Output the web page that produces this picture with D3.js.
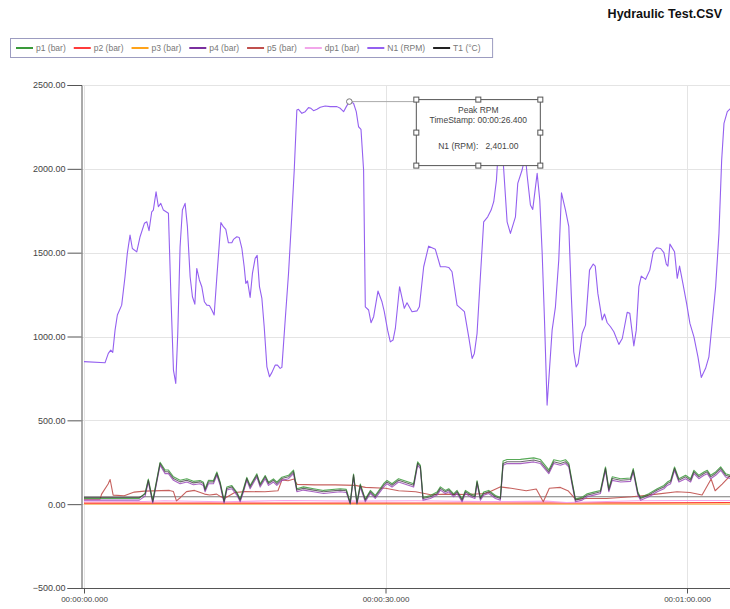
<!DOCTYPE html>
<html>
  <head>
    <meta charset="utf-8">
    <title>Hydraulic Test.CSV</title>
    <script src="https://cdn.jsdelivr.net/npm/d3@7"></script>
    <style>
      body { margin: 0; background: #fff; }
      svg { display: block; font-family: "Liberation Sans", Arial, sans-serif; }
      .grid line { stroke: #e4e4e4; stroke-width: 1; }
      .axis path, .axis line { stroke: #555; }
      .axis text { fill: #444; }
      .series { fill: none; stroke-width: 1.1; stroke-linejoin: round; }
    </style>
  </head>

  <body>
    <svg id="chart" width="730" height="609"></svg>

    <script>
      // data (time in seconds)
      yTicks = [-500, 0, 500, 1000, 1500, 2000, 2500];
      xTicks = [0, 30, 60];

      names = ["p1 (bar)", "p2 (bar)", "p3 (bar)", "p4 (bar)", "p5 (bar)", "dp1 (bar)", "N1 (RPM)", "T1 (\u00b0C)"];
      colors = ["#3a9a3a", "#ff3b3b", "#ffa31a", "#7a2f9e", "#c0504d", "#f2a6ea", "#9460f0", "#222222"];

      n1 = [[0,850],[2.09,843],[2.42,899],[2.66,919],[2.86,905],[3.09,1038],[3.32,1128],[3.75,1187],[4.08,1356],[4.31,1496],[4.58,1605],[4.81,1525],[5.25,1505],[5.58,1595],[6.01,1675],[6.25,1684],[6.47,1631],[6.74,1744],[6.9,1754],[7.17,1863],[7.4,1774],[7.64,1794],[7.9,1754],[8.4,1735],[8.64,1257],[8.9,800],[9.13,720],[9.33,1018],[9.56,1535],[9.79,1754],[10.06,1794],[10.29,1655],[10.56,1356],[10.79,1237],[11.03,1193],[11.22,1406],[11.48,1337],[11.72,1297],[11.98,1207],[12.22,1187],[12.48,1185],[12.72,1158],[12.95,1128],[13.22,1356],[13.62,1679],[13.87,1655],[14.11,1639],[14.37,1559],[14.71,1559],[14.87,1579],[15.21,1595],[15.44,1591],[15.71,1525],[15.94,1416],[16.1,1317],[16.27,1332],[16.53,1233],[16.76,1376],[17.03,1466],[17.23,1484],[17.46,1297],[17.7,1227],[17.93,1058],[18.2,819],[18.46,760],[18.7,786],[19.02,829],[19.25,829],[19.52,810],[19.69,816],[20.02,1098],[20.35,1376],[20.69,1735],[20.92,1993],[21.18,2351],[21.34,2355],[21.68,2331],[22.01,2341],[22.34,2365],[22.58,2361],[22.84,2347],[23.18,2355],[23.51,2367],[24.0,2375],[24.5,2371],[25.17,2371],[25.5,2361],[25.83,2341],[26.1,2371],[26.4,2401],[26.82,2391],[27.09,2341],[27.32,2251],[27.56,2236],[27.82,1993],[27.99,1177],[28.32,1158],[28.56,1082],[28.82,1118],[29.25,1271],[29.65,1207],[29.88,1148],[30.21,1038],[30.48,968],[30.75,979],[30.98,1048],[31.4,1297],[31.87,1168],[32.14,1201],[32.64,1148],[33.14,1153],[33.37,1177],[33.8,1416],[34.29,1539],[34.96,1520],[35.46,1416],[35.96,1416],[36.29,1412],[36.62,1386],[37.12,1187],[37.85,1148],[38.28,998],[38.62,869],[38.84,899],[39.11,1018],[39.44,1356],[39.77,1684],[40.17,1714],[40.51,1754],[40.77,1804],[41.04,1933],[41.16,2053],[41.33,2150],[41.7,2053],[42.1,1684],[42.43,1615],[42.93,1714],[43.16,1913],[43.59,1993],[43.92,2080],[44.09,1963],[44.42,1784],[44.65,1758],[45.09,1973],[45.35,1814],[45.59,1496],[45.82,1098],[46.08,591],[46.58,1038],[46.91,1177],[47.24,1456],[47.51,1857],[47.91,1754],[48.24,1655],[48.48,1257],[48.73,909],[48.97,819],[49.17,839],[49.57,1018],[49.9,1068],[50.3,1396],[50.67,1432],[50.87,1420],[51.13,1257],[51.56,1098],[51.79,1134],[52.06,1082],[52.39,1058],[52.72,1028],[53.22,953],[53.56,988],[54.05,1144],[54.31,1138],[54.71,944],[54.95,1038],[55.21,1297],[55.45,1360],[55.88,1341],[56.3,1396],[56.64,1505],[56.97,1529],[57.37,1525],[57.7,1500],[57.94,1432],[58.1,1420],[58.3,1551],[58.76,1505],[59.03,1347],[59.26,1420],[59.59,1317],[59.96,1197],[60.29,1078],[60.69,998],[61.09,879],[61.42,756],[61.85,810],[62.18,879],[62.85,1297],[63.18,1615],[63.45,2053],[63.68,2271],[64.01,2341],[64.34,2361],[64.6,2370]];

      t1 = [[0,40],[5.5,40],[6.08,60],[6.4,143],[6.84,14],[7.57,243],[8.07,193],[8.4,193],[8.9,153],[9.56,133],[10.23,143],[10.89,127],[11.55,133],[11.88,123],[12.05,84],[12.38,133],[12.88,133],[13.22,183],[13.55,123],[13.94,14],[14.21,94],[14.71,103],[15.21,64],[15.54,24],[15.87,84],[16.2,153],[16.53,103],[17.2,173],[17.53,113],[18.03,163],[18.36,123],[18.85,143],[19.19,123],[19.69,153],[20.35,163],[20.85,193],[21.18,84],[21.84,94],[22.84,84],[23.84,74],[25.5,84],[26.1,80],[26.49,4],[26.82,173],[27.16,4],[27.49,113],[27.99,24],[28.49,74],[28.98,44],[29.81,113],[30.15,133],[30.65,113],[31.3,143],[32.8,113],[33.2,243],[33.47,223],[33.73,34],[34.46,44],[35.13,64],[35.46,94],[35.96,74],[36.29,84],[36.78,54],[37.12,74],[37.62,24],[37.95,74],[38.45,54],[38.9,44],[39.11,133],[39.44,34],[39.77,64],[40.27,74],[40.94,44],[41.43,34],[41.7,243],[42.1,253],[43.43,253],[44.75,263],[45.42,253],[46.25,193],[46.74,253],[47.41,243],[47.91,253],[48.24,233],[48.58,123],[48.9,24],[49.57,34],[50.07,54],[50.73,64],[51.39,74],[51.89,213],[52.22,84],[52.56,153],[53.39,143],[54.38,147],[54.65,203],[55.11,64],[55.38,34],[56.2,54],[57.04,84],[57.7,103],[58.04,123],[58.37,133],[58.76,213],[59.19,143],[59.86,163],[60.36,143],[60.69,193],[61.18,163],[61.68,183],[62.02,193],[62.35,163],[62.85,183],[63.35,213],[63.84,173],[64.34,163],[64.6,160]];

      p1 = [[0,34],[5.5,34],[6.08,66],[6.4,150],[6.84,22],[7.57,250],[8.07,204],[8.4,204],[8.9,163],[9.56,143],[10.23,152],[10.89,136],[11.55,141],[11.88,131],[12.05,92],[12.38,142],[12.88,141],[13.22,192],[13.55,131],[13.94,22],[14.21,102],[14.71,111],[15.21,71],[15.54,30],[15.87,92],[16.2,160],[16.53,111],[17.2,181],[17.53,121],[18.03,171],[18.36,131],[18.85,151],[19.19,131],[19.69,161],[20.35,172],[20.85,203],[21.18,92],[21.84,103],[22.84,92],[23.84,82],[25.5,92],[26.1,88],[26.49,10],[26.82,180],[27.16,10],[27.49,120],[27.99,30],[28.49,82],[28.98,52],[29.81,122],[30.15,142],[30.65,122],[31.3,152],[32.8,122],[33.2,252],[33.47,232],[33.73,40],[34.46,52],[35.13,72],[35.46,103],[35.96,82],[36.29,92],[36.78,62],[37.12,82],[37.62,30],[37.95,82],[38.45,62],[38.9,52],[39.11,140],[39.44,40],[39.77,72],[40.27,82],[40.94,52],[41.43,40],[41.7,258],[42.1,266],[43.43,267],[44.75,276],[45.42,266],[46.25,204],[46.74,265],[47.41,256],[47.91,265],[48.24,244],[48.58,131],[48.9,30],[49.57,42],[50.07,62],[50.73,72],[51.39,82],[51.89,222],[52.22,94],[52.56,163],[53.39,152],[54.38,156],[54.65,212],[55.11,72],[55.38,40],[56.2,62],[57.04,92],[57.7,112],[58.04,132],[58.37,142],[58.76,222],[59.19,152],[59.86,172],[60.36,152],[60.69,202],[61.18,172],[61.68,192],[62.02,202],[62.35,172],[62.85,192],[63.35,222],[63.84,182],[64.34,172],[64.6,170]];

      p4 = [[0,24],[5.5,24],[6.08,48],[6.4,132],[6.84,6],[7.57,232],[8.07,182],[8.4,182],[8.9,142],[9.56,122],[10.23,132],[10.89,116],[11.55,122],[11.88,112],[12.05,74],[12.38,122],[12.88,122],[13.22,172],[13.55,112],[13.94,6],[14.21,84],[14.71,92],[15.21,54],[15.54,14],[15.87,74],[16.2,142],[16.53,92],[17.2,162],[17.53,102],[18.03,152],[18.36,112],[18.85,132],[19.19,112],[19.69,142],[20.35,152],[20.85,182],[21.18,74],[21.84,84],[22.84,74],[23.84,64],[25.5,74],[26.1,70],[26.49,0],[26.82,162],[27.16,0],[27.49,102],[27.99,14],[28.49,64],[28.98,34],[29.81,102],[30.15,122],[30.65,102],[31.3,132],[32.8,102],[33.2,232],[33.47,212],[33.73,24],[34.46,34],[35.13,54],[35.46,84],[35.96,64],[36.29,74],[36.78,44],[37.12,64],[37.62,14],[37.95,64],[38.45,44],[38.9,34],[39.11,122],[39.44,24],[39.77,54],[40.27,64],[40.94,34],[41.43,24],[41.7,232],[42.1,242],[43.43,242],[44.75,252],[45.42,242],[46.25,182],[46.74,242],[47.41,232],[47.91,242],[48.24,222],[48.58,112],[48.9,14],[49.57,24],[50.07,44],[50.73,54],[51.39,64],[51.89,202],[52.22,74],[52.56,142],[53.39,132],[54.38,136],[54.65,192],[55.11,54],[55.38,24],[56.2,44],[57.04,74],[57.7,92],[58.04,112],[58.37,122],[58.76,202],[59.19,132],[59.86,152],[60.36,132],[60.69,182],[61.18,152],[61.68,172],[62.02,182],[62.35,152],[62.85,172],[63.35,202],[63.84,162],[64.34,152],[64.6,150]];

      p5 = [[0,30],[1.6,30],[1.75,60],[2.4,120],[2.6,147],[2.9,54],[4.0,50],[5.0,72],[6.0,78],[8.5,82],[8.9,75],[9.2,20],[9.6,40],[10.2,75],[11,82],[12,60],[12.5,55],[13.2,60],[13.6,45],[14,35],[15,70],[16,75],[18,74],[19.3,80],[19.7,145],[20.3,140],[20.9,150],[21.2,118],[23,115],[25,115],[27,112],[28,100],[30,95],[31.3,80],[33,74],[34.5,56],[36,60],[38,58],[40,64],[41.4,103],[42.5,95],[44,80],[45,90],[45.7,15],[46.3,95],[47.4,100],[48.2,78],[48.9,30],[50,34],[52,34],[54.5,44],[55.5,50],[57,60],[59,74],[60.3,70],[61.5,55],[62.4,150],[62.8,80],[63.5,120],[64.3,170],[64.6,172]];

      p2 = [[0,6],[20,6],[40,7],[56,8],[64.6,10]];
      p3 = [[0,1],[64.6,1]];
      dp1 = [[0,18],[6,16],[8,20],[14,14],[20,22],[27,18],[33,20],[40,15],[46,18],[48,10],[55,20],[60,22],[64.6,22]];

      // flat grey trace seen across the whole run (not in the legend)
      baseline = [[0,44],[64.6,44]];

      peakTime = 26.4;
      peakValue = 2401;

      // elements
      svg = d3.select("#chart");
      width = 730;
      height = 609;

      x = d3.scaleLinear()
        .domain([0, 60])
        .range([84, 687]);
      y = d3.scaleLinear()
        .domain([-500, 2500])
        .range([588, 85]);

      function stamp(s) {
        let m = Math.floor(s / 60);
        let sec = s - m * 60;
        return "00:" + d3.format("02d")(m) + ":" + d3.format("06.3f")(sec);
      }

      // title
      svg.append("text")
        .attr("x", 722)
        .attr("y", 18)
        .attr("text-anchor", "end")
        .style("font-size", "12.5px")
        .style("font-weight", "bold")
        .style("fill", "#111")
        .style("font-family", "'Liberation Sans Narrow', 'Liberation Sans', Arial, sans-serif")
        .text("Hydraulic Test.CSV");

      // grid
      grid = svg.append("g").attr("class", "grid");
      grid.selectAll(".h")
          .data(yTicks)
        .enter().append("line")
          .attr("x1", 82).attr("x2", width)
          .attr("y1", function(d) { return Math.round(y(d)) + .5; })
          .attr("y2", function(d) { return Math.round(y(d)) + .5; });
      grid.selectAll(".v")
          .data(xTicks)
        .enter().append("line")
          .attr("x1", function(d) { return Math.round(x(d)) + .5; })
          .attr("x2", function(d) { return Math.round(x(d)) + .5; })
          .attr("y1", 85).attr("y2", 588);

      // series
      line = d3.line()
        .x(function(d) { return x(d[0]); })
        .y(function(d) { return y(d[1]); });

      series = [
        { name: "", color: "#6d6d6d", data: baseline, opacity: .9 },
        { name: names[2], color: colors[2], data: p3, opacity: 1 },
        { name: names[1], color: colors[1], data: p2, opacity: 1 },
        { name: names[5], color: colors[5], data: dp1, opacity: 1 },
        { name: names[4], color: colors[4], data: p5, opacity: .9 },
        { name: names[3], color: "#9a48b8", data: p4, opacity: .85 },
        { name: names[0], color: colors[0], data: p1, opacity: .85 },
        { name: names[7], color: "#3a3a3a", data: t1, opacity: .75 },
        { name: names[6], color: colors[6], data: n1, opacity: 1 }
      ];

      svg.append("clipPath")
          .attr("id", "plotClip")
        .append("rect")
          .attr("x", 82).attr("y", 80)
          .attr("width", width - 82).attr("height", 510);

      svg.append("g")
          .attr("clip-path", "url(#plotClip)")
        .selectAll("path")
          .data(series)
        .enter().append("path")
          .attr("class", "series")
          .attr("stroke", function(d) { return d.color; })
          .attr("stroke-opacity", function(d) { return d.opacity; })
          .attr("d", function(d) { return line(d.data); });

      // axes
      yAxis = svg.append("g")
        .attr("class", "axis")
        .attr("transform", "translate(81.5,0)")
        .call(d3.axisLeft(y)
          .tickValues(yTicks)
          .tickSize(14)
          .tickPadding(2)
          .tickFormat(d3.format(".2f")));
      yAxis.selectAll("text").style("font-size", "9px");

      xAxis = svg.append("g")
        .attr("class", "axis")
        .attr("transform", "translate(0,588.5)")
        .call(d3.axisBottom(x)
          .tickValues(xTicks)
          .tickSize(5)
          .tickPadding(3)
          .tickFormat(stamp));
      xAxis.select(".domain").attr("d", "M81.5,0H" + width);
      xAxis.selectAll("text").style("font-size", "8px");

      // peak annotation
      px = x(peakTime);
      py = y(peakValue);
      bx = px + 67;
      by = py - 2;
      bw = 124;
      bh = 66;

      note = svg.append("g");
      note.append("line")
        .attr("x1", px).attr("x2", bx)
        .attr("y1", py).attr("y2", py)
        .attr("stroke", "#aaa");
      note.append("circle")
        .attr("cx", px).attr("cy", py)
        .attr("r", 2.8)
        .attr("fill", "#fff")
        .attr("stroke", "#777");
      note.append("rect")
        .attr("x", bx).attr("y", by)
        .attr("width", bw).attr("height", bh)
        .attr("fill", "#fff")
        .attr("stroke", "#555");
      note.selectAll(".handle")
          .data([[0, 0], [.5, 0], [1, 0], [0, .5], [1, .5], [0, 1], [.5, 1], [1, 1]])
        .enter().append("rect")
          .attr("x", function(d) { return bx + d[0] * bw - 2.5; })
          .attr("y", function(d) { return by + d[1] * bh - 2.5; })
          .attr("width", 5).attr("height", 5)
          .attr("fill", "#fff")
          .attr("stroke", "#555");
      noteText = note.append("g")
        .attr("text-anchor", "middle")
        .style("font-size", "8.5px")
        .style("fill", "#444");
      noteText.append("text")
        .attr("x", bx + bw / 2).attr("y", by + 13)
        .text("Peak RPM");
      noteText.append("text")
        .attr("x", bx + bw / 2).attr("y", by + 23)
        .text("TimeStamp: " + stamp(peakTime));
      noteText.append("text")
        .attr("x", bx + bw / 2).attr("y", by + 49)
        .attr("xml:space", "preserve")
        .text("N1 (RPM):   " + d3.format(",.2f")(peakValue));

      // legend
      legend = svg.append("g");
      legendBox = legend.append("rect")
        .attr("x", 10.5).attr("y", 38.5)
        .attr("height", 19)
        .attr("fill", "#fff")
        .attr("stroke", "#9c9cc0");
      lx = 16;
      names.forEach(function(name, i) {
        legend.append("line")
          .attr("x1", lx).attr("x2", lx + 17)
          .attr("y1", 48).attr("y2", 48)
          .attr("stroke", colors[i])
          .attr("stroke-width", 2);
        let t = legend.append("text")
          .attr("x", lx + 20).attr("y", 51)
          .style("font-size", "8.5px")
          .style("fill", "#777")
          .text(name);
        lx += 20 + t.node().getComputedTextLength() + 8;
      });
      legendBox.attr("width", lx - 10.5 + 4);
    </script>
  </body>
</html>
